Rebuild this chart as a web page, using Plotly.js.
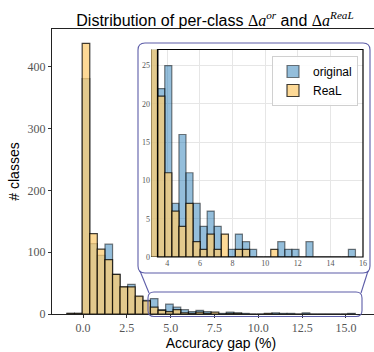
<!DOCTYPE html>
<html><head><meta charset="utf-8">
<script src="https://cdn.plot.ly/plotly-3.0.1.min.js"></script>
<style>html,body{margin:0;padding:0;overflow:hidden;background:#fff}#chart{width:390px;height:352px}</style>
</head><body><div id="chart"></div>
<script>
// ---- data (histogram bins: centers, counts per class) ----
const binCenters = [-0.70, -0.27, 0.17, 0.60, 1.03, 1.47, 1.90, 2.33, 2.76, 3.20,
  3.63, 4.06, 4.50, 4.93, 5.36, 5.80, 6.23, 6.66, 7.09, 7.53,
  7.96, 8.39, 8.83, 9.26, 9.69, 10.13, 10.56, 10.99, 11.42, 11.86,
  12.29, 12.72, 13.16, 13.59, 14.02, 14.45, 14.89, 15.32];
const countsOriginal = [1, 1, 381, 114, 95, 113, 64, 44, 48, 28,
  22, 25, 7, 16, 11, 7, 4, 6, 4, 0,
  1, 3, 2, 1, 0, 0, 0, 2, 1, 1,
  0, 2, 0, 0, 0, 0, 0, 1];
const countsReaL = [1, 1, 438, 130, 105, 88, 64, 44, 44, 29,
  21, 11, 6, 4, 7, 2, 1, 3, 1, 3,
  0, 1, 1, 0, 0, 0, 1, 0, 0, 0,
  0, 0, 0, 0, 0, 0, 0, 0];
const seriesNames = ['original', 'ReaL'];
const mainXTicks = [0, 2.5, 5, 7.5, 10, 12.5, 15];
const mainXTickLabels = ['0.0', '2.5', '5.0', '7.5', '10.0', '12.5', '15.0'];
const mainYTicks = [0, 100, 200, 300, 400];
const insetXTicks = [4, 6, 8, 10, 12, 14, 16];
const insetYTicks = [0, 5, 10, 15, 20, 25];

// ---- styles ----
const W = 390, H = 352, L = 52, R = 0, T = 29, B = 38;
const PW = W - L - R, PH = H - T - B;
const px = v => (v - L) / PW;
const py = v => (H - B - v) / PH;
const binWidth = 0.433;
const blueFill = 'rgba(31,119,180,0.48)', blueEdge = 'rgba(0,0,0,0.5)';
const tanFill = 'rgba(252,204,115,0.75)', tanEdge = 'rgba(0,0,0,0.75)';
const boxColor = '#5d5da8';
const serif = 'Liberation Serif, DejaVu Serif, serif';
const sans = 'Liberation Sans, Arial, sans-serif';

function bars(name, y, fill, edge, xa, ya, show) {
  return {type: 'bar', name: name, x: binCenters, y: y, width: binWidth,
    xaxis: xa, yaxis: ya, showlegend: show, hoverinfo: 'skip',
    marker: {color: fill, line: {color: edge, width: 1.2}}};
}
const traces = [
  bars(seriesNames[0], countsOriginal, blueFill, blueEdge, 'x', 'y', false),
  bars(seriesNames[1], countsReaL, tanFill, tanEdge, 'x', 'y', false),
  bars(seriesNames[0], countsOriginal, blueFill, blueEdge, 'x2', 'y2', true),
  bars(seriesNames[1], countsReaL, tanFill, tanEdge, 'x2', 'y2', true)
];

function roundRect(x0, y0, x1, y1, r) {
  const P = (a, b) => px(a).toFixed(5) + ',' + py(b).toFixed(5);
  return 'M' + P(x0 + r, y0) + ' L' + P(x1 - r, y0) + ' Q' + P(x1, y0) + ' ' + P(x1, y0 + r) +
    ' L' + P(x1, y1 - r) + ' Q' + P(x1, y1) + ' ' + P(x1 - r, y1) +
    ' L' + P(x0 + r, y1) + ' Q' + P(x0, y1) + ' ' + P(x0, y1 - r) +
    ' L' + P(x0, y0 + r) + ' Q' + P(x0, y0) + ' ' + P(x0 + r, y0) + ' Z';
}
const shapes = [
  {type: 'path', xref: 'paper', yref: 'paper', path: roundRect(138, 43, 370, 273, 7), line: {color: boxColor, width: 1.1}},
  {type: 'path', xref: 'paper', yref: 'paper', path: roundRect(148, 292, 362, 316.5, 6), line: {color: boxColor, width: 1.1}},
  {type: 'line', xref: 'paper', yref: 'paper', x0: px(140), y0: py(271), x1: px(149), y1: py(293), line: {color: boxColor, width: 1.1}},
  {type: 'line', xref: 'paper', yref: 'paper', x0: px(368), y0: py(271), x1: px(361), y1: py(293), line: {color: boxColor, width: 1.1}},
  {type: 'rect', xref: 'paper', yref: 'paper', x0: px(157.5), y0: py(257), x1: px(363), y1: py(49.5), line: {color: '#000', width: 1.2}}
];

const m = s => '<span style="font-family:Liberation Serif">' + s + '</span>';
const layout = {
  width: W, height: H,
  margin: {l: L, r: R, t: T, b: B},
  paper_bgcolor: '#fff', plot_bgcolor: '#fff',
  barmode: 'overlay',
  title: {text: 'Distribution of per-class ' + m('Δ<i>a</i><sup><i>or</i></sup>') + ' and ' + m('Δ<i>a</i><sup><i>ReaL</i></sup>'),
    font: {family: sans, size: 16, color: '#000'}, x: 215 / W, xref: 'container', xanchor: 'center',
    y: 1 - 20 / H, yref: 'container', yanchor: 'middle'},
  xaxis: {domain: [0, 1], range: [(L - 83) / 17.53, (W - 83) / 17.53],
    tickvals: mainXTicks, ticktext: mainXTickLabels, ticks: 'outside', ticklen: 3, tickcolor: '#333',
    tickfont: {family: serif, size: 12, color: '#555'},
    showline: true, mirror: true, linecolor: '#222', linewidth: 1,
    showgrid: false, zeroline: false,
    title: {text: 'Accuracy gap (%)', font: {family: sans, size: 14, color: '#000'}, standoff: 3}},
  yaxis: {domain: [0, 1], range: [0, PH / 0.618],
    tickvals: mainYTicks, ticks: 'outside', ticklen: 3, tickcolor: '#333',
    tickfont: {family: serif, size: 12, color: '#555'},
    showline: true, linecolor: '#222', linewidth: 1,
    showgrid: false, zeroline: false,
    title: {text: '# classes', font: {family: sans, size: 14, color: '#000'}, standoff: 4}},
  xaxis2: {domain: [px(151), px(363)], range: [3.0, 16.0], anchor: 'y2',
    tickvals: insetXTicks, ticks: '', tickfont: {family: serif, size: 8, color: '#555'},
    showline: false, showgrid: true, gridcolor: '#e6e6e6', gridwidth: 1, zeroline: false},
  yaxis2: {domain: [py(257), py(49.5)], range: [0, 27.1], anchor: 'x2',
    tickvals: insetYTicks, ticks: '', tickfont: {family: serif, size: 8, color: '#555'},
    showline: false, showgrid: true, gridcolor: '#e6e6e6', gridwidth: 1, zeroline: false},
  legend: {x: px(358), xanchor: 'right', y: py(56), yanchor: 'top', xref: 'paper', yref: 'paper',
    bgcolor: 'rgba(255,255,255,0.85)', bordercolor: '#d0d0d0', borderwidth: 1,
    font: {family: sans, size: 12, color: '#000'}, traceorder: 'normal', tracegroupgap: 0},
  shapes: shapes
};

Plotly.newPlot('chart', traces, layout, {displayModeBar: false, staticPlot: true});
</script>
</body></html>
